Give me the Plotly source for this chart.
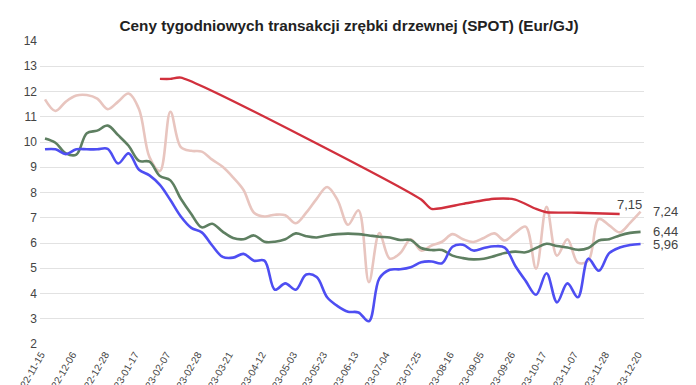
import pandas as pd
import plotly.graph_objects as go

# weekly dates
dates = pd.date_range("2022-11-15", periods=58, freq="7D")

pink_vals = [11.69, 11.23, 11.6, 11.84, 11.86, 11.72, 11.3, 11.6, 11.92, 11.3,
             9.4, 8.85, 11.2, 9.8, 9.65, 9.62, 9.3, 9.02, 8.6, 8.1,
             7.2, 7.05, 7.12, 7.1, 6.78, 7.2, 7.75, 8.22, 7.7, 6.72,
             7.3, 4.45, 6.39, 5.38, 5.6, 6.15, 5.7, 5.9, 6.05, 6.35,
             6.15, 6.04, 6.2, 6.38, 6.1, 6.4, 6.65, 4.98, 7.43, 5.5,
             6.15, 5.22, 5.3, 6.95, 6.7, 6.42, 6.8, 7.24]

green_vals = [10.14, 9.97, 9.55, 9.5, 10.35, 10.45, 10.65, 10.27, 9.85, 9.25,
              9.22, 8.65, 8.48, 7.75, 7.15, 6.62, 6.76, 6.45, 6.2, 6.15,
              6.3, 6.05, 6.05, 6.15, 6.38, 6.27, 6.22, 6.3, 6.35, 6.37,
              6.35, 6.3, 6.25, 6.22, 6.12, 6.12, 5.8, 5.72, 5.72, 5.5,
              5.4, 5.35, 5.38, 5.48, 5.6, 5.66, 5.63, 5.8, 5.97, 5.88,
              5.82, 5.73, 5.8, 6.1, 6.15, 6.3, 6.4, 6.44]

blue_vals = [9.71, 9.71, 9.52, 9.71, 9.71, 9.71, 9.73, 9.15, 9.55, 8.9,
             8.68, 8.3, 7.7, 7.05, 6.6, 6.42, 5.9, 5.45, 5.42, 5.57,
             5.3, 5.3, 4.15, 4.4, 4.15, 4.75, 4.65, 3.85, 3.5, 3.28,
             3.25, 2.9, 4.6, 4.94, 4.96, 5.04, 5.24, 5.27, 5.2, 5.85,
             5.93, 5.7, 5.8, 5.87, 5.82, 5.1, 4.5, 3.95, 4.8, 3.65,
             4.4, 3.85, 5.38, 4.9, 5.6, 5.82, 5.92, 5.96]

red_dates = ["2023-01-31", "2023-02-07", "2023-02-14", "2023-07-25", "2023-08-01",
             "2023-08-22", "2023-09-12", "2023-09-26", "2023-10-10", "2023-10-17",
             "2023-11-07", "2023-12-05"]
red_vals = [12.50, 12.50, 12.55, 7.72, 7.35, 7.55, 7.75, 7.72, 7.35, 7.22, 7.20, 7.15]

tick_dates = ["2022-11-15", "2022-12-06", "2022-12-28", "2023-01-17", "2023-02-07",
              "2023-02-28", "2023-03-21", "2023-04-12", "2023-05-03", "2023-05-23",
              "2023-06-13", "2023-07-04", "2023-07-25", "2023-08-16", "2023-09-05",
              "2023-09-26", "2023-10-17", "2023-11-07", "2023-11-28", "2023-12-20"]

title_text = "Ceny tygodniowych transakcji zrębki drzewnej (SPOT) (Eur/GJ)"

fig = go.Figure()
series = [
    (pink_vals, "#e8c5bf"),
    (green_vals, "#5e7f61"),
    (blue_vals, "#4e4ef2"),
]
for vals, col in series:
    fig.add_trace(go.Scatter(x=dates, y=vals, mode="lines",
                             line=dict(color=col, width=2.6, shape="spline", smoothing=1)))
fig.add_trace(go.Scatter(x=pd.to_datetime(red_dates), y=red_vals, mode="lines",
                         line=dict(color="#d1303d", width=2.4, shape="spline", smoothing=0.6)))

lab_font = dict(family="Liberation Sans, Arial, sans-serif", size=13, color="#444444")
last = dates[-1]
for v, txt in [(pink_vals[-1], "7,24"), (green_vals[-1], "6,44"), (blue_vals[-1], "5,96")]:
    fig.add_annotation(x=last, y=v, text=txt, showarrow=False, xanchor="left",
                       yanchor="middle", xshift=10, font=lab_font)
fig.add_annotation(x=pd.to_datetime(red_dates[-1]), y=red_vals[-1], text="7,15",
                   showarrow=False, xanchor="left", yanchor="bottom", xshift=-5, yshift=0,
                   font=lab_font)

# page body has an 8px margin, so the figure is 8px smaller and margins compensate
fig.update_layout(
    width=688, height=377,
    margin=dict(l=32, r=52, t=33, b=41),
    paper_bgcolor="white", plot_bgcolor="white",
    showlegend=False,
    title=dict(text="<b>" + title_text + "</b>", x=(349 - 8) / 688, xref="container",
               xanchor="center", y=1 - 18 / 377, yref="container", yanchor="middle",
               font=dict(family="Liberation Sans, Arial, sans-serif", size=15.3, color="#222222")),
    xaxis=dict(type="date", range=["2022-11-11 15:36", "2023-12-21 07:12"],
               tickvals=pd.to_datetime(tick_dates), ticktext=tick_dates,
               tickangle=-60, showgrid=False, zeroline=False, showline=False,
               automargin=False, ticklabelshift=-4, ticklabelstandoff=2,
               tickfont=dict(family="Liberation Sans, Arial, sans-serif", size=10, color="#444444")),
    yaxis=dict(range=[2, 14], dtick=1, showgrid=True, gridcolor="#e2e2e2", gridwidth=1,
               zeroline=False, showline=False, automargin=False, ticklabelstandoff=2,
               tickfont=dict(family="Liberation Sans, Arial, sans-serif", size=12, color="#444444")),
)

fig.write_html("out.html")
